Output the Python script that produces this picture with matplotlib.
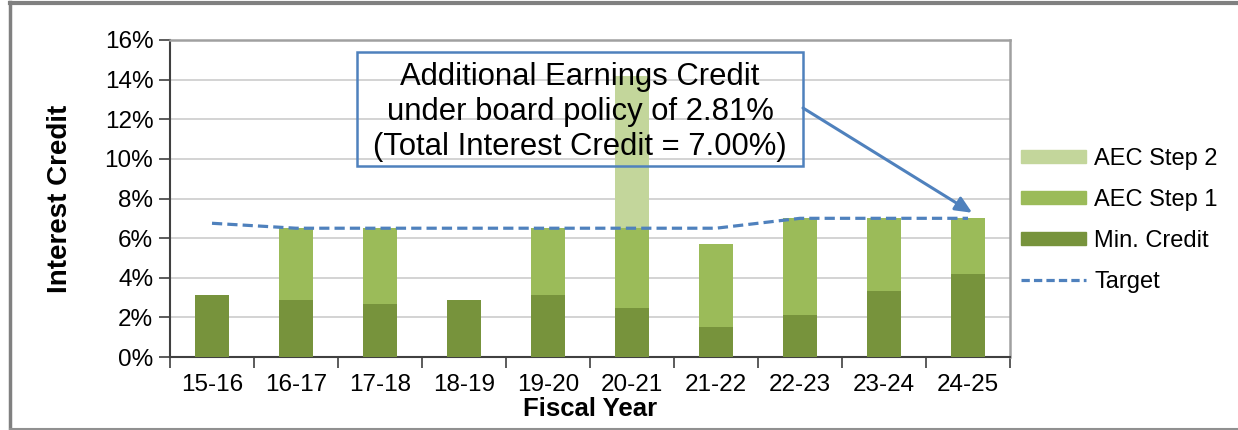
import matplotlib
matplotlib.use("Agg")
import matplotlib.pyplot as plt
from matplotlib.patches import Rectangle, Patch
from matplotlib.lines import Line2D
from matplotlib.ticker import FuncFormatter, FixedLocator
import numpy as np

plt.rcParams['font.family'] = ['Liberation Sans', 'DejaVu Sans']

years = ["15-16", "16-17", "17-18", "18-19", "19-20", "20-21", "21-22", "22-23", "23-24", "24-25"]
min_credit = [3.15, 2.90, 2.65, 2.90, 3.15, 2.45, 1.50, 2.10, 3.35, 4.20]
aec_step1 = [0.00, 3.60, 3.85, 0.00, 3.35, 4.05, 4.20, 4.90, 3.65, 2.80]
aec_step2 = [0.00, 0.00, 0.00, 0.00, 0.00, 7.70, 0.00, 0.00, 0.00, 0.00]
target = [6.75, 6.50, 6.50, 6.50, 6.50, 6.50, 6.50, 7.00, 7.00, 7.00]
yticks = [0, 2, 4, 6, 8, 10, 12, 14, 16]

C_MIN = "#77933C"
C_S1 = "#9BBB59"
C_S2 = "#C3D69B"
C_TGT = "#4F81BD"

W, H = 1238, 430
fig = plt.figure(figsize=(W / 100, H / 100), dpi=100)
ax = fig.add_axes([170 / W, 1 - 357 / H, (1010 - 170) / W, (357 - 40) / H])

x = np.arange(len(years))
mc = np.array(min_credit) / 100
s1 = np.array(aec_step1) / 100
s2 = np.array(aec_step2) / 100
bw = 0.41
ax.bar(x, mc, bw, color=C_MIN, zorder=3)
ax.bar(x, s1, bw, bottom=mc, color=C_S1, zorder=3)
ax.bar(x, s2, bw, bottom=mc + s1, color=C_S2, zorder=3)
ax.plot(x, np.array(target) / 100, color=C_TGT, lw=2.3,
        linestyle=(0, (3.2, 1.6)), zorder=4, solid_capstyle='butt')

ax.set_xlim(-0.5, len(years) - 0.5)
ax.set_ylim(0, 0.16)
ax.set_yticks(np.array(yticks) / 100)
ax.yaxis.set_major_formatter(FuncFormatter(lambda v, p: f"{v*100:.0f}%"))
ax.set_xticks(x)
ax.set_xticklabels(years)
ax.xaxis.set_minor_locator(FixedLocator(np.arange(-0.5, len(years), 1.0)))
ax.tick_params(axis='x', which='major', length=0, pad=12, labelsize=17.5, colors='#000000')
ax.tick_params(axis='x', which='minor', length=8, width=1.2, color='#404040', direction='out')
ax.tick_params(axis='y', which='major', length=8, width=1.2, color='#404040', pad=4, labelsize=17.5)

ax.grid(axis='y', color='#D0D0D0', lw=1.3, zorder=0)
ax.set_axisbelow(True)
for s in ['top', 'right']:
    ax.spines[s].set_color('#A0A0A0')
    ax.spines[s].set_linewidth(1.8)
for s in ['left', 'bottom']:
    ax.spines[s].set_color('#404040')
    ax.spines[s].set_linewidth(1.5)

fig.text(60 / W, 1 - 199 / H, "Interest Credit", rotation=90, fontsize=20,
         fontweight='bold', ha='center', va='center')
fig.text(590 / W, 1 - 409 / H, "Fiscal Year", fontsize=18.5,
         fontweight='bold', ha='center', va='center')

# annotation box
fig.add_artist(Rectangle((357 / W, 1 - 166 / H), (803 - 357) / W, (166 - 52) / H,
                         transform=fig.transFigure, fill=False, ec=C_TGT, lw=1.8, zorder=5))
fig.text(580 / W, 1 - 112 / H,
         "Additional Earnings Credit\nunder board policy of 2.81%\n(Total Interest Credit = 7.00%)",
         fontsize=22.3, ha='center', va='center', linespacing=1.2, zorder=6)
ax.annotate("", xy=(len(years) - 1 + 0.05, target[-1] / 100 + 0.0028),
            xytext=(803 / W, 1 - 108 / H), textcoords='figure fraction',
            arrowprops=dict(arrowstyle='-|>,head_length=1.0,head_width=0.45',
                            color=C_TGT, lw=2.2, shrinkA=0, shrinkB=0), zorder=6)

handles = [Patch(color=C_S2), Patch(color=C_S1), Patch(color=C_MIN),
           Line2D([0], [0], color=C_TGT, lw=2.3, linestyle=(0, (2.6, 1.3)))]
labels = ["AEC Step 2", "AEC Step 1", "Min. Credit", "Target"]
fig.legend(handles, labels, loc='upper left', bbox_to_anchor=(1021 / W, 1 - 148 / H),
           frameon=False, fontsize=17, handlelength=2.75, handleheight=0.45,
           handletextpad=0.35, labelspacing=0.8, borderpad=0, borderaxespad=0)

# outer frame lines
fig.add_artist(Line2D([10 / W, 10 / W], [0, 1 - 2 / H], transform=fig.transFigure,
                      color='#808080', lw=2.5))
fig.add_artist(Line2D([10 / W, 1], [1 - 2.5 / H, 1 - 2.5 / H], transform=fig.transFigure,
                      color='#808080', lw=3))
fig.add_artist(Line2D([10 / W, 1], [0.8 / H, 0.8 / H], transform=fig.transFigure,
                      color='#909090', lw=1.5))

fig.savefig("out.png", dpi=100)
